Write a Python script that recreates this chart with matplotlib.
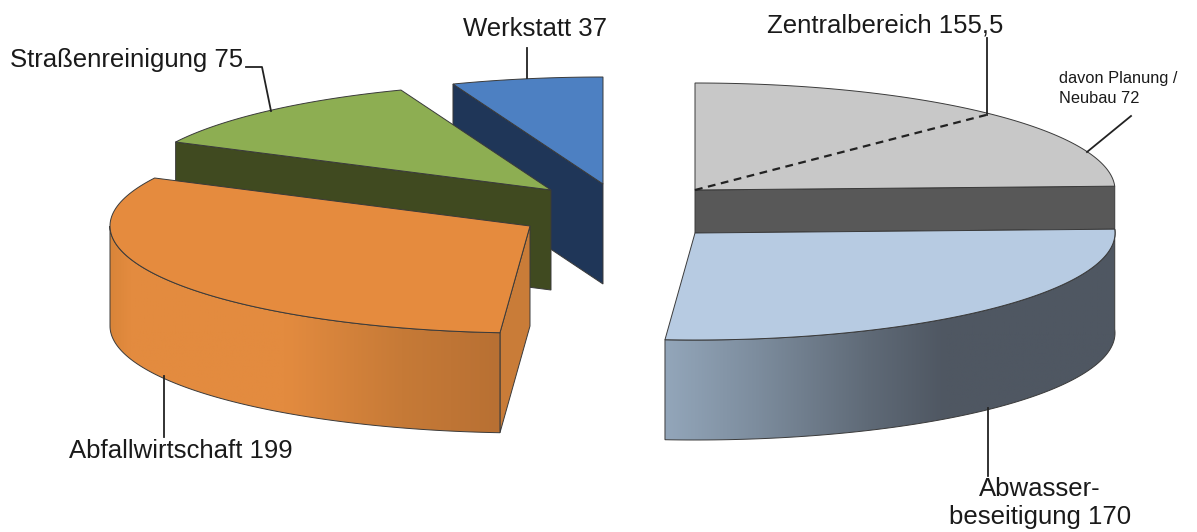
import numpy as np
import matplotlib
matplotlib.use('Agg')
import matplotlib.pyplot as plt
from matplotlib.patches import Polygon
from matplotlib.colors import LinearSegmentedColormap

plt.rcParams['font.family'] = ['Liberation Sans', 'DejaVu Sans']

# Werte (im Uhrzeigersinn ab 12 Uhr)
names = ['Zentralbereich', 'Abwasser', 'Abfallwirtschaft', 'Straßenreinigung', 'Werkstatt']
values = [155.5, 170, 199, 75, 37]
top_colors = ['#C8C8C8', '#B7CBE2', '#E58B3E', '#8DAE52', '#4D80C2']
side_colors = ['#585858', '#4F5762', '#C97C38', '#404A20', '#1F3658']

# Lage der Segmente (Pixel)
centers = {'Zentralbereich': (695, 190), 'Abwasser': (695, 233),
           'Abfallwirtschaft': (530, 226), 'Straßenreinigung': (551, 190),
           'Werkstatt': (603, 184)}
rx = 420
ry = 107
depth = 100

fig = plt.figure(figsize=(11.97, 5.32), dpi=100)
ax = fig.add_axes([0, 0, 1, 1])
ax.set_xlim(0, 1197)
ax.set_ylim(532, 0)
ax.axis('off')

# Winkel aus den Werten
total = sum(values)
edges = np.concatenate([[0], np.cumsum(values)]) / total * 2 * np.pi
angles = {n: (edges[i], edges[i + 1]) for i, n in enumerate(names)}
color_top = dict(zip(names, top_colors))
color_side = dict(zip(names, side_colors))
edge = '#3A3A3A'


def rim(name, a0=None, a1=None, dy=0):
    cx, cy = centers[name]
    if a0 is None:
        a0, a1 = angles[name]
    t = np.linspace(a0, a1, 100)
    return np.column_stack([cx + rx * np.sin(t), cy + dy - ry * np.cos(t)])


def poly(points, color, z, lw=0.7):
    p = Polygon(points, closed=True, facecolor=color, edgecolor=edge, linewidth=lw, zorder=z)
    ax.add_patch(p)
    return p


def cut_face(name, angle, z, height=depth):
    # Schnittfläche vom Mittelpunkt zum Rand
    cx, cy = centers[name]
    x = cx + rx * np.sin(angle)
    y = cy - ry * np.cos(angle)
    poly([(cx, cy), (x, y), (x, y + height), (cx, cy + height)], color_side[name], z)


def top_face(name, z):
    poly(np.vstack([centers[name], rim(name)]), color_top[name], z)


def curved_side(name, a0, a1, stops, z):
    # Außenwand mit Farbverlauf, stops von links nach rechts
    upper = rim(name, a0, a1)
    lower = rim(name, a0, a1, depth)[::-1]
    pts = np.vstack([upper, lower])
    p = poly(pts, 'none', z + 0.1)
    cmap = LinearSegmentedColormap.from_list(name, stops)
    x0, x1 = pts[:, 0].min(), pts[:, 0].max()
    y0, y1 = pts[:, 1].min(), pts[:, 1].max()
    im = ax.imshow(np.linspace(0, 1, 256).reshape(1, -1), cmap=cmap, aspect='auto',
                   extent=[x0, x1, y1, y0], zorder=z)
    im.set_clip_path(p)


# Werkstatt
cut_face('Werkstatt', angles['Werkstatt'][0], 1)
top_face('Werkstatt', 2)

# Straßenreinigung
cut_face('Straßenreinigung', angles['Straßenreinigung'][0], 3)
top_face('Straßenreinigung', 4)

# Abfallwirtschaft
a0, a1 = angles['Abfallwirtschaft']
cut_face('Abfallwirtschaft', a0, 5)
curved_side('Abfallwirtschaft', a0, 1.5 * np.pi,
            [(0, '#D98539'), (0.05, '#E38B3F'), (0.45, '#E38B3F'), (0.75, '#C67A37'), (1, '#B87033')], 6)
top_face('Abfallwirtschaft', 7)

# Zentralbereich
cut_face('Zentralbereich', angles['Zentralbereich'][1], 8, height=centers['Abwasser'][1] - centers['Zentralbereich'][1])
top_face('Zentralbereich', 9)

# Abwasser
a0, a1 = angles['Abwasser']
curved_side('Abwasser', a0, a1,
            [(0, '#93A6BA'), (0.2, '#7D8D9E'), (0.45, '#5F6A77'), (0.62, '#4F5762'), (1, '#4F5762')], 10)
top_face('Abwasser', 11)

# Hilfslinien und Beschriftung
ax.plot([695, 986], [190, 115], color='#222222', lw=1.6, ls=(0, (3.5, 2.5)), zorder=12)
leaders = [([527, 527], [48, 78]), ([246, 262, 271], [67, 67, 111]),
           ([164, 164], [376, 437]), ([987, 987], [38, 115]),
           ([1087, 1131], [152, 116]), ([988, 988], [408, 476])]
for xs, ys in leaders:
    ax.plot(xs, ys, color='#222222', lw=1.3, zorder=12)

labels = [(535, 29, 'Werkstatt 37'), (127, 60, 'Straßenreinigung 75'),
          (181, 451, 'Abfallwirtschaft 199'), (885, 26, 'Zentralbereich 155,5'),
          (1040, 503, 'Abwasser-\nbeseitigung 170')]
for x, y, s in labels:
    ax.text(x, y, s, ha='center', va='center', fontsize=18.5, color='#1A1A1A', linespacing=1.25, zorder=13)
ax.text(1059, 88.5, 'davon Planung /\nNeubau 72', ha='left', va='center', fontsize=11.8,
        color='#1A1A1A', linespacing=1.35, zorder=13)

fig.savefig('out.png', dpi=100)
